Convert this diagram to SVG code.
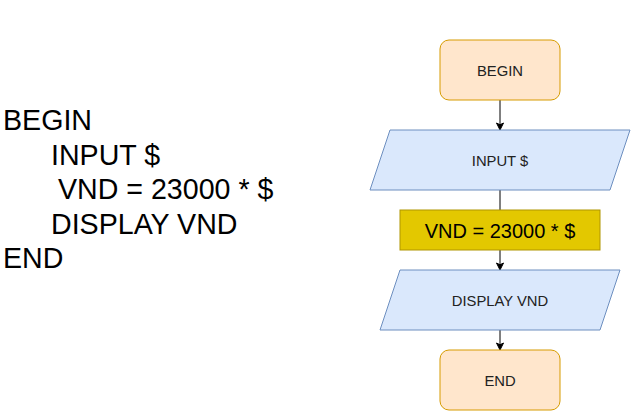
<svg xmlns="http://www.w3.org/2000/svg" width="631" height="411" viewBox="0 0 631 411">
<style>
.term{fill:#ffe6cc;stroke:#d79b00;stroke-width:1}
.io{fill:#dae8fc;stroke:#6c8ebf;stroke-width:1}
.proc{fill:#e3c800;stroke:#b09500;stroke-width:1}
.lbl{font-family:"Liberation Sans",Arial,sans-serif;font-size:14.8px;fill:#222;text-anchor:middle}
.big{font-family:"Liberation Sans",Arial,sans-serif;font-size:20px;fill:#000;text-anchor:middle}
.code{font-family:"Liberation Sans",Arial,sans-serif;font-size:28.6px;fill:#000}
.edge{stroke:#000;stroke-width:1;fill:none}
.head{fill:#000;stroke:#000;stroke-width:1}
</style>
<g id="pseudocode">
<text class="code" x="3" y="130">BEGIN</text>
<text class="code" x="51" y="165">INPUT $</text>
<text class="code" x="58" y="199">VND = 23000 * $</text>
<text class="code" x="51" y="234">DISPLAY VND</text>
<text class="code" x="3" y="268">END</text>
</g>
<g id="connectors">
<path class="edge" d="M500,100 V124"/>
<path class="head" d="M500,130 L496.5,123 L500,124.75 L503.5,123 Z"/>
<path class="edge" d="M500,190 V210"/>
<path class="edge" d="M500,250 V264"/>
<path class="head" d="M500,270 L496.5,263 L500,264.75 L503.5,263 Z"/>
<path class="edge" d="M500,330 V344"/>
<path class="head" d="M500,350 L496.5,343 L500,344.75 L503.5,343 Z"/>
</g>
<g id="begin">
<rect class="term" x="440" y="40" width="120" height="60" rx="9" ry="9"/>
<text class="lbl" x="500" y="75.5">BEGIN</text>
</g>
<g id="input">
<polygon class="io" points="390,130 630,130 610,190 370,190"/>
<text class="lbl" x="500" y="165.5">INPUT $</text>
</g>
<g id="compute">
<rect class="proc" x="400" y="210" width="200" height="40"/>
<text class="big" x="500" y="237.5">VND = 23000 * $</text>
</g>
<g id="display">
<polygon class="io" points="400,270 620,270 600,330 380,330"/>
<text class="lbl" x="500" y="305.5">DISPLAY VND</text>
</g>
<g id="end">
<rect class="term" x="440" y="350" width="120" height="60" rx="9" ry="9"/>
<text class="lbl" x="500" y="385.5">END</text>
</g>
</svg>
